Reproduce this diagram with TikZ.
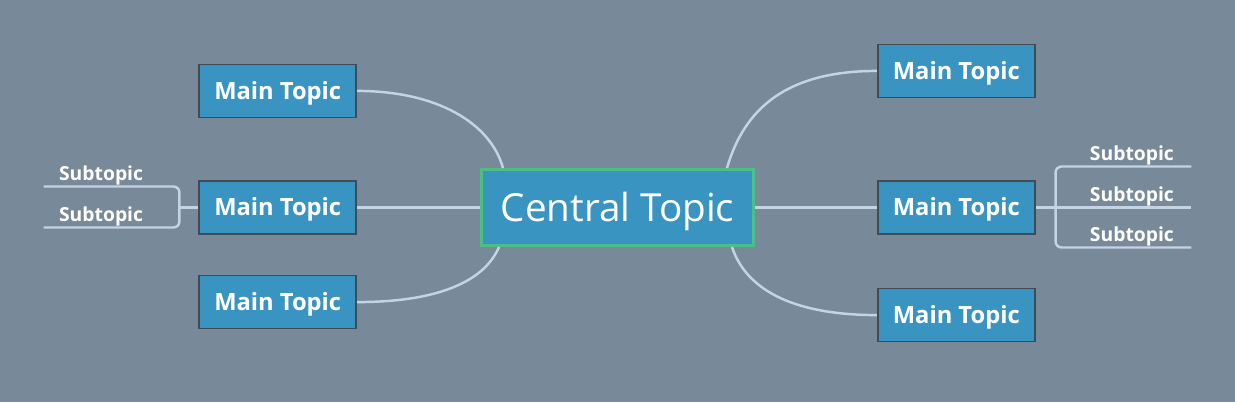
\documentclass[tikz,border=0pt]{standalone}
\usepackage{fontspec}
\setmainfont{Open Sans}
\usetikzlibrary{positioning}

\definecolor{mapbg}{RGB}{120,137,153}
\definecolor{topicfill}{RGB}{57,148,194}
\definecolor{topicline}{RGB}{64,75,85}
\definecolor{centralline}{RGB}{78,190,135}
\definecolor{branchcol}{RGB}{197,211,227}

\begin{document}
\begin{tikzpicture}[
		branch/.style={draw=branchcol, line width=1.4pt},
		central/.style={draw=centralline, line width=1.7pt, fill=topicfill, text=white, inner sep=0pt, text height=15.7pt, text depth=0pt, minimum width=5.44cm, minimum height=1.52cm, font=\fontsize{22}{26}\selectfont},
		topic/.style={draw=topicline, line width=0.9pt, fill=topicfill, text=white, inner sep=0pt, text height=9.6pt, text depth=0pt, minimum width=3.14cm, minimum height=1.06cm, font=\bfseries\fontsize{13.5}{16}\selectfont},
		subtopic/.style={text=white, inner sep=0.5pt, font=\bfseries\fontsize{11}{13}\selectfont},
	]
		\fill[mapbg] (-12.35,-3.89) rectangle (12.35,4.15);
		\useasboundingbox (-12.35,-3.89) rectangle (12.35,4.15);

		\node (ct) [central] at (0,0) {Central Topic};

		\node (lm) [topic, left=2.46cm of ct] {Main Topic};
		\node (lt) [topic, above=1.24cm of lm] {Main Topic};
		\node (lb) [topic, below=0.8cm of lm] {Main Topic};
		\node (rm) [topic, right=2.44cm of ct] {Main Topic};
		\node (rt) [topic, above=1.64cm of rm] {Main Topic};
		\node (rb) [topic, below=1.06cm of rm] {Main Topic};

		% subtopics
		\node (ls1) [subtopic, minimum width=2.28cm, anchor=south east] at ([xshift=-0.8cm, yshift=0.42cm]lm.west) {Subtopic};
		\node (ls2) [subtopic, minimum width=2.28cm, anchor=south east] at ([xshift=-0.8cm, yshift=-0.4cm]lm.west) {Subtopic};
		\node (rs1) [subtopic, minimum width=2.36cm, anchor=south west] at ([xshift=0.74cm, yshift=0.82cm]rm.east) {Subtopic};
		\node (rs2) [subtopic, minimum width=2.36cm, anchor=south west] at ([xshift=0.74cm]rm.east) {Subtopic};
		\node (rs3) [subtopic, minimum width=2.36cm, anchor=south west] at ([xshift=0.74cm, yshift=-0.8cm]rm.east) {Subtopic};
		\coordinate (lbr) at ([xshift=-0.38cm]lm.west);
		\coordinate (rbr) at ([xshift=0.4cm]rm.east);

		% branches
		\draw[branch] (ct) -- (lm);
		\draw[branch] (ct) -- (rm);
		\draw[branch] ([xshift=0.46cm]ct.north west) .. controls +(-0.25,0.9) and +(1.6,0) .. (lt.east);
		\draw[branch] ([xshift=0.38cm]ct.south west) .. controls +(-0.3,-0.7) and +(1.6,0) .. (lb.east);
		\draw[branch] ([xshift=-0.56cm]ct.north east) .. controls +(0.35,1.2) and +(-1.8,0) .. (rt.west);
		\draw[branch] ([xshift=-0.46cm]ct.south east) .. controls +(0.3,-0.9) and +(-1.6,0) .. (rb.west);

		\draw[branch] (lm) -- (lbr);
		\draw[branch, rounded corners=0.12cm] (ls1.south west) -- (ls1.south east) -- (ls1.south east -| lbr) -- (ls2.south east -| lbr) -- (ls2.south east) -- (ls2.south west);
		\draw[branch] (rm) -- (rs2.south east);
		\draw[branch, rounded corners=0.12cm] (rs1.south east) -- (rs1.south west) -- (rs1.south west -| rbr) -- (rs3.south west -| rbr) -- (rs3.south west) -- (rs3.south east);
	\end{tikzpicture}
\end{document}
